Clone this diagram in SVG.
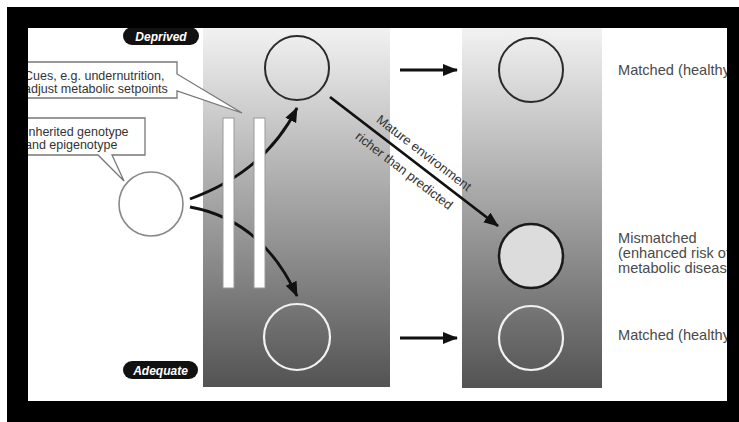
<svg xmlns="http://www.w3.org/2000/svg" width="739" height="422" viewBox="0 0 739 422">
<defs>
<linearGradient id="col" x1="0" y1="0" x2="0" y2="1">
<stop offset="0" stop-color="#f2f2f2"/>
<stop offset="0.5" stop-color="#a2a2a2"/>
<stop offset="1" stop-color="#535353"/>
</linearGradient>
<marker id="ah" markerUnits="userSpaceOnUse" markerWidth="16" markerHeight="14" refX="14" refY="7" orient="auto">
<path d="M0,1 L15,7 L0,13 Z" fill="#111"/>
</marker>
<style>
.lbl{font-family:"Liberation Sans",Arial,sans-serif;font-size:12.5px;fill:#333}
.dlbl{font-family:"Liberation Sans",Arial,sans-serif;font-size:13px;fill:#333}
.rlbl{font-family:"Liberation Sans",Arial,sans-serif;font-size:14.6px;fill:#4a4a4a}
.pill{fill:#111}
.pilltxt{font-family:"Liberation Sans",Arial,sans-serif;font-size:12px;font-weight:bold;font-style:italic;fill:#fff}
.conn{fill:none;stroke:#111;stroke-width:2.8;marker-end:url(#ah)}
.call{fill:#fff;stroke:#777;stroke-width:1.3}
.bar{fill:#fff;stroke:#999;stroke-width:1}
</style>
</defs>
<rect x="0" y="0" width="739" height="422" fill="#fff"/>
<g id="columns">
<rect x="203" y="28" width="187" height="359" fill="url(#col)"/>
<rect x="462" y="28" width="140" height="360" fill="url(#col)"/>
</g>
<g id="callout-cues">
<path class="call" d="M18,62 H177 V74 L242,113 L177,91 V98 H18 Z"/>
<text class="lbl" x="24" y="80">Cues, e.g. undernutrition,</text>
<text class="lbl" x="24" y="93">adjust metabolic setpoints</text>
</g>
<g id="callout-inherited">
<path class="call" d="M18,118 H145 V155 H112 L124,181 L98,155 H18 Z"/>
<text class="lbl" x="25" y="136">Inherited genotype</text>
<text class="lbl" x="25" y="149">and epigenotype</text>
</g>
<g id="node-start">
<circle cx="151" cy="204" r="32" fill="#fff" stroke="#888" stroke-width="1.6"/>
</g>
<g id="node-dev-deprived">
<circle cx="297" cy="68" r="32" fill="none" stroke="#2a2a2a" stroke-width="2"/>
</g>
<g id="node-dev-adequate">
<circle cx="297" cy="337" r="33" fill="none" stroke="#f2f2f2" stroke-width="2.2"/>
</g>
<g id="node-mat-deprived">
<circle cx="531" cy="70" r="32" fill="none" stroke="#2a2a2a" stroke-width="2"/>
</g>
<g id="node-mismatched">
<circle cx="531" cy="256" r="32" fill="#dcdcdc" stroke="#1a1a1a" stroke-width="2.5"/>
</g>
<g id="node-mat-adequate">
<circle cx="531" cy="338" r="32" fill="none" stroke="#f2f2f2" stroke-width="2.2"/>
</g>
<g id="connectors">
<path class="conn" d="M190,199 Q265,172 297,108"/>
<path class="conn" d="M190,207 Q262,220 297,296"/>
<line class="conn" x1="330" y1="97" x2="498" y2="226"/>
<line class="conn" x1="400" y1="70" x2="457" y2="70"/>
<line class="conn" x1="400" y1="338" x2="457" y2="338"/>
<g transform="translate(414,161) rotate(37.5)">
<text class="dlbl" x="3" y="-8" text-anchor="middle">Mature environment</text>
<text class="dlbl" x="-2" y="18" text-anchor="middle">richer than predicted</text>
</g>
</g>
<g id="barrier">
<rect class="bar" x="223" y="118" width="11" height="170"/>
<rect class="bar" x="254" y="118" width="11" height="170"/>
</g>
<g id="label-deprived">
<rect class="pill" x="123" y="27" width="76" height="18" rx="9"/>
<text class="pilltxt" x="161" y="40.5" text-anchor="middle">Deprived</text>
</g>
<g id="label-adequate">
<rect class="pill" x="123" y="361" width="75" height="18" rx="9"/>
<text class="pilltxt" x="160.5" y="374.5" text-anchor="middle">Adequate</text>
</g>
<g id="outcome-labels">
<text class="rlbl" x="618" y="75">Matched (healthy)</text>
<text class="rlbl" x="618" y="243">Mismatched</text>
<text class="rlbl" x="618" y="258">(enhanced risk of</text>
<text class="rlbl" x="618" y="273">metabolic disease)</text>
<text class="rlbl" x="618" y="340">Matched (healthy)</text>
</g>
<g id="frame" fill="#000">
<rect x="7" y="7" width="732" height="21"/>
<rect x="7" y="401" width="732" height="21"/>
<rect x="7" y="7" width="21" height="415"/>
<rect x="727" y="7" width="12" height="415"/>
</g>
</svg>
